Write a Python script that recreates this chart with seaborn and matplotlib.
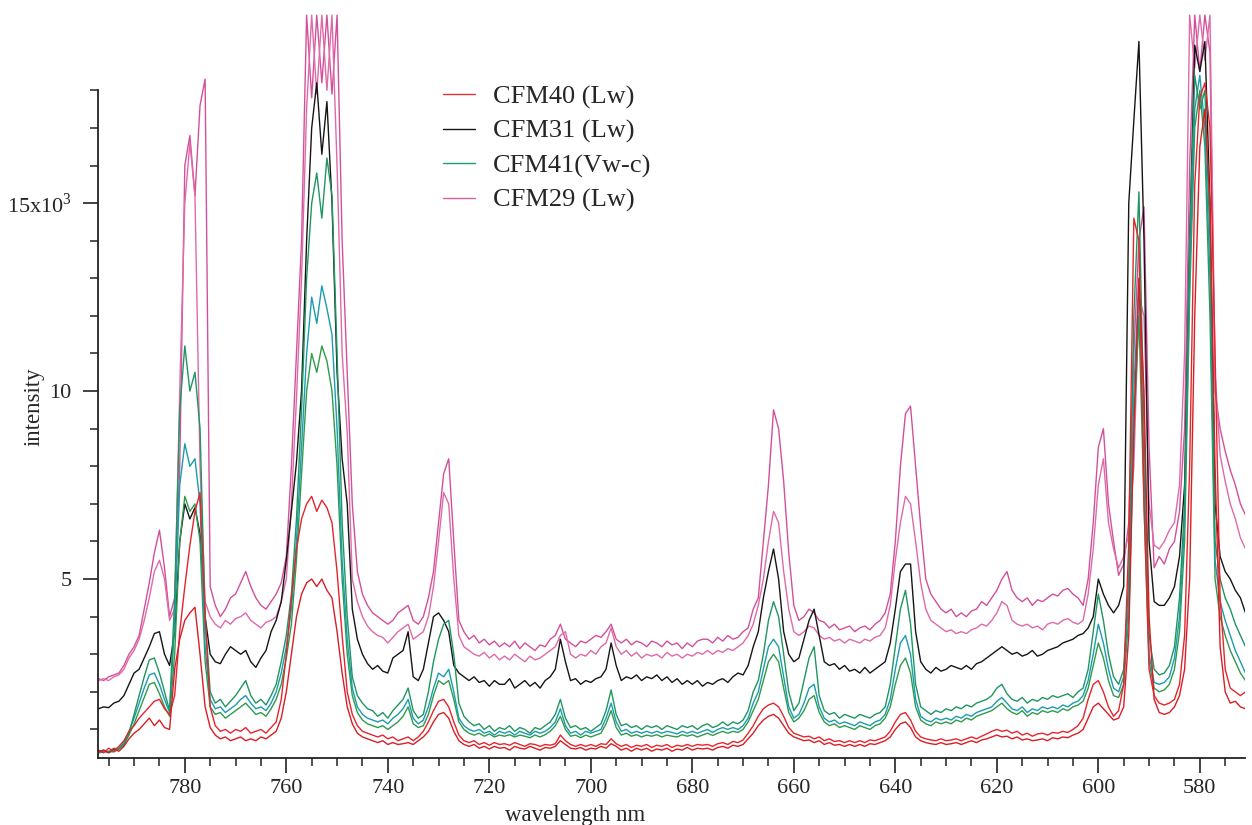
import numpy as np
import pandas as pd
import matplotlib
matplotlib.use("Agg")
import matplotlib.pyplot as plt
from matplotlib.lines import Line2D
from matplotlib.ticker import MultipleLocator, FixedLocator
import seaborn as sns

# wavelength grid, 797 nm down to 571 nm, 1 nm steps
wavelength = np.arange(797, 570, -1)

# intensities in units of 10^3 counts
cfm40_a = [
    0.40, 0.45, 0.38, 0.48, 0.42, 0.55, 0.75, 0.90, 1.00, 1.15,
    1.30, 1.10, 1.25, 1.05, 1.00, 2.60, 3.40, 3.90, 4.10, 4.25,
    3.00, 1.60, 1.05, 0.85, 0.75, 0.80, 0.70, 0.75, 0.80, 0.70,
    0.75, 0.70, 0.80, 0.75, 0.85, 0.95, 1.30, 2.00, 3.00, 4.00,
    4.60, 4.90, 5.00, 4.80, 5.00, 4.70, 4.50, 3.60, 2.50, 1.60,
    1.15, 0.90, 0.80, 0.75, 0.70, 0.65, 0.70, 0.60, 0.65, 0.60,
    0.62, 0.65, 0.60, 0.70, 0.80, 0.95, 1.20, 1.40, 1.45, 1.30,
    0.95, 0.70, 0.60, 0.55, 0.60, 0.50, 0.55, 0.48, 0.55, 0.50,
    0.52, 0.45, 0.55, 0.50, 0.48, 0.55, 0.50, 0.45, 0.52, 0.50,
    0.55, 0.70, 0.60, 0.50, 0.48, 0.52, 0.45, 0.50, 0.48, 0.55,
    0.50, 0.62, 0.55, 0.45, 0.50, 0.42, 0.50, 0.45, 0.50, 0.42,
    0.48, 0.45, 0.50, 0.42, 0.48, 0.45, 0.52, 0.45, 0.50, 0.48,
    0.50, 0.45, 0.52, 0.55, 0.50, 0.58, 0.55, 0.60, 0.75, 0.90,
    1.10, 1.25, 1.35, 1.40, 1.30, 1.10, 0.90, 0.80, 0.75, 0.70,
    0.72, 0.65, 0.70, 0.60, 0.65, 0.58, 0.60, 0.55, 0.60, 0.55,
    0.60, 0.55, 0.62, 0.60, 0.65, 0.70, 0.80, 1.00, 1.15, 1.20,
    1.05, 0.80, 0.70, 0.65, 0.62, 0.60, 0.65, 0.60, 0.62, 0.65,
    0.60, 0.65, 0.70, 0.65, 0.72, 0.75, 0.80, 0.85, 0.80, 0.82,
    0.75, 0.80, 0.72, 0.75, 0.70, 0.72, 0.75, 0.70, 0.78, 0.75,
    0.80, 0.78, 0.85, 0.90, 1.00, 1.30, 1.60, 1.70, 1.55, 1.40,
    1.25, 1.30, 1.60, 3.50, 9.00, 13.0, 10.0, 4.00, 1.80, 1.45,
    1.40, 1.45, 1.60, 1.90, 2.60, 5.00, 12.0, 16.5, 17.5, 15.0,
    8.00, 3.20, 2.00, 1.70, 1.75, 1.60, 1.55,
]
cfm40_b = [
    0.45, 0.38, 0.50, 0.42, 0.55, 0.70, 0.95, 1.10, 1.30, 1.45,
    1.60, 1.75, 1.80, 1.55, 1.40, 1.90, 3.60, 4.80, 5.90, 6.80,
    7.30, 4.00, 1.60, 1.10, 0.95, 1.00, 0.90, 1.00, 0.95, 1.05,
    0.90, 0.95, 1.00, 0.90, 1.05, 1.20, 1.80, 3.00, 4.50, 5.80,
    6.60, 7.00, 7.20, 6.80, 7.10, 6.90, 6.50, 5.20, 3.50, 2.00,
    1.40, 1.10, 0.95, 0.90, 0.85, 0.80, 0.85, 0.75, 0.80, 0.70,
    0.75, 0.80, 0.70, 0.80, 0.95, 1.20, 1.50, 1.75, 1.80, 1.60,
    1.20, 0.85, 0.70, 0.65, 0.70, 0.60, 0.65, 0.58, 0.65, 0.60,
    0.62, 0.58, 0.65, 0.60, 0.55, 0.62, 0.60, 0.55, 0.60, 0.58,
    0.62, 0.85, 0.70, 0.60, 0.55, 0.60, 0.55, 0.60, 0.55, 0.62,
    0.60, 0.75, 0.62, 0.55, 0.60, 0.52, 0.58, 0.55, 0.60, 0.52,
    0.58, 0.55, 0.60, 0.52, 0.58, 0.55, 0.60, 0.55, 0.60, 0.58,
    0.60, 0.55, 0.62, 0.65, 0.60, 0.68, 0.65, 0.72, 0.90, 1.10,
    1.35, 1.55, 1.65, 1.70, 1.60, 1.35, 1.05, 0.90, 0.85, 0.80,
    0.82, 0.75, 0.80, 0.70, 0.75, 0.68, 0.70, 0.65, 0.70, 0.65,
    0.70, 0.65, 0.72, 0.70, 0.75, 0.80, 0.95, 1.20, 1.40, 1.45,
    1.25, 0.95, 0.80, 0.75, 0.72, 0.70, 0.75, 0.70, 0.72, 0.75,
    0.70, 0.75, 0.80, 0.75, 0.82, 0.88, 0.95, 1.00, 0.95, 0.98,
    0.90, 0.95, 0.85, 0.90, 0.82, 0.88, 0.90, 0.85, 0.92, 0.90,
    0.95, 0.92, 1.00, 1.10, 1.30, 1.80, 2.20, 2.30, 2.00, 1.60,
    1.35, 1.50, 2.20, 6.00, 14.6, 14.0, 7.00, 2.60, 1.90, 1.70,
    1.65, 1.70, 1.80, 2.20, 3.50, 8.00, 15.5, 17.8, 18.2, 17.0,
    11.0, 4.50, 2.60, 2.10, 2.00, 1.90, 2.00,
]
cfm31 = [
    1.55, 1.60, 1.58, 1.70, 1.75, 1.90, 2.20, 2.50, 2.60, 2.90,
    3.20, 3.55, 3.60, 3.00, 2.70, 3.60, 6.00, 7.00, 6.60, 6.90,
    6.20, 4.00, 3.00, 2.80, 2.75, 3.00, 3.20, 3.10, 3.00, 3.10,
    2.80, 2.65, 2.90, 3.10, 3.60, 3.90, 4.40, 5.50, 6.80, 8.10,
    10.0, 14.0, 17.0, 18.2, 16.3, 17.7, 15.0, 10.5, 8.20, 7.00,
    4.20, 3.40, 3.00, 2.75, 2.60, 2.70, 2.55, 2.50, 2.90, 3.00,
    3.10, 3.60, 2.40, 2.30, 2.60, 3.30, 4.00, 4.10, 3.90, 3.60,
    2.70, 2.50, 2.40, 2.30, 2.40, 2.25, 2.30, 2.15, 2.30, 2.20,
    2.20, 2.35, 2.10, 2.20, 2.30, 2.15, 2.25, 2.10, 2.30, 2.40,
    2.60, 3.40, 2.80, 2.30, 2.35, 2.20, 2.30, 2.25, 2.35, 2.40,
    2.60, 3.30, 2.70, 2.30, 2.40, 2.35, 2.45, 2.30, 2.40, 2.35,
    2.45, 2.30, 2.40, 2.25, 2.35, 2.20, 2.30, 2.20, 2.30, 2.15,
    2.25, 2.20, 2.30, 2.35, 2.25, 2.40, 2.50, 2.45, 2.70, 3.20,
    3.60, 4.50, 5.20, 5.80, 5.00, 3.60, 3.00, 2.80, 2.90, 3.40,
    3.90, 4.20, 3.50, 2.80, 2.70, 2.75, 2.60, 2.70, 2.55, 2.60,
    2.50, 2.65, 2.50, 2.60, 2.70, 2.80, 3.30, 4.20, 5.20, 5.40,
    5.40, 3.60, 2.80, 2.60, 2.50, 2.65, 2.55, 2.60, 2.70, 2.65,
    2.60, 2.70, 2.60, 2.75, 2.80, 2.90, 3.00, 3.10, 3.20, 3.10,
    3.00, 3.05, 2.95, 3.00, 3.10, 2.95, 3.00, 3.10, 3.15, 3.20,
    3.30, 3.35, 3.40, 3.50, 3.55, 3.70, 4.00, 5.00, 4.60, 4.30,
    4.10, 4.30, 4.80, 15.0, 17.2, 19.3, 14.0, 6.00, 4.40, 4.30,
    4.30, 4.50, 4.80, 5.60, 7.50, 14.0, 19.2, 18.5, 19.3, 15.0,
    7.00, 5.60, 5.20, 5.00, 4.70, 4.50, 4.10,
]
cfm41_a = [
    0.42, 0.45, 0.40, 0.50, 0.48, 0.60, 0.90, 1.40, 1.90, 2.40,
    2.85, 2.90, 2.50, 2.00, 1.50, 4.50, 9.50, 11.2, 10.0, 10.5,
    9.00, 4.00, 2.00, 1.70, 1.80, 1.60, 1.75, 1.90, 2.10, 2.30,
    1.90, 1.70, 1.80, 1.65, 1.90, 2.20, 2.80, 3.50, 4.60, 6.60,
    9.50, 13.0, 15.0, 15.8, 14.6, 16.2, 15.2, 11.0, 6.50, 4.00,
    2.40, 1.90, 1.70, 1.55, 1.50, 1.35, 1.45, 1.30, 1.50, 1.65,
    1.80, 2.10, 1.50, 1.30, 1.40, 2.00, 2.80, 3.40, 3.80, 3.90,
    3.00, 1.70, 1.35, 1.20, 1.10, 1.15, 1.00, 1.10, 0.95, 1.05,
    1.00, 1.10, 0.95, 1.05, 1.00, 0.90, 1.05, 1.00, 1.10, 1.20,
    1.40, 1.80, 1.30, 1.05, 1.10, 1.00, 1.05, 0.95, 1.05, 1.15,
    1.50, 2.05, 1.40, 1.10, 1.15, 1.05, 1.10, 1.00, 1.10, 1.05,
    1.10, 1.00, 1.10, 1.05, 1.00, 1.10, 1.05, 1.10, 1.00, 1.10,
    1.15, 1.05, 1.10, 1.20, 1.10, 1.20, 1.15, 1.25, 1.50, 2.00,
    2.30, 3.00, 3.90, 4.40, 4.00, 3.00, 2.00, 1.50, 1.70, 2.30,
    2.90, 3.20, 1.90, 1.50, 1.40, 1.45, 1.30, 1.40, 1.35, 1.30,
    1.40, 1.35, 1.30, 1.40, 1.45, 1.60, 2.20, 3.20, 4.20, 4.70,
    3.80, 2.20, 1.60, 1.50, 1.40, 1.50, 1.45, 1.55, 1.50, 1.60,
    1.55, 1.65, 1.60, 1.70, 1.75, 1.80, 1.90, 2.10, 2.20, 1.95,
    1.80, 1.75, 1.85, 1.70, 1.80, 1.75, 1.85, 1.80, 1.90, 1.85,
    1.90, 1.95, 1.85, 2.00, 2.10, 2.60, 3.60, 4.60, 3.90, 3.00,
    2.40, 2.20, 2.60, 5.00, 12.0, 15.3, 9.00, 3.50, 2.60, 2.45,
    2.50, 2.70, 3.20, 4.50, 7.00, 14.0, 18.4, 17.5, 18.0, 14.0,
    6.00, 5.00, 4.50, 4.20, 3.80, 3.50, 3.20,
]
cfm41_b = [
    0.40, 0.42, 0.38, 0.45, 0.50, 0.65, 0.95, 1.30, 1.70, 2.10,
    2.45, 2.50, 2.20, 1.80, 1.45, 3.80, 7.50, 8.60, 8.00, 8.20,
    7.00, 3.20, 1.80, 1.55, 1.60, 1.45, 1.55, 1.65, 1.80, 1.90,
    1.70, 1.55, 1.60, 1.50, 1.70, 2.00, 2.50, 3.20, 4.20, 6.00,
    8.50, 11.0, 12.5, 11.8, 12.8, 12.2, 11.5, 9.00, 5.50, 3.40,
    2.10, 1.60, 1.40, 1.30, 1.25, 1.20, 1.25, 1.15, 1.30, 1.40,
    1.55, 1.80, 1.30, 1.15, 1.25, 1.60, 2.10, 2.50, 2.40, 2.60,
    2.00, 1.30, 1.10, 1.00, 0.95, 1.00, 0.90, 0.95, 0.85, 0.95,
    0.90, 0.95, 0.85, 0.95, 0.90, 0.85, 0.95, 0.90, 0.95, 1.05,
    1.20, 1.55, 1.10, 0.90, 0.95, 0.85, 0.95, 0.90, 0.95, 1.00,
    1.30, 1.70, 1.20, 0.95, 1.00, 0.90, 0.95, 0.90, 0.95, 0.90,
    0.95, 0.90, 0.95, 0.92, 0.88, 0.95, 0.90, 0.95, 0.90, 0.95,
    1.00, 0.92, 1.00, 1.05, 1.00, 1.05, 1.00, 1.10, 1.30, 1.70,
    2.00, 2.60, 3.20, 3.40, 3.20, 2.40, 1.60, 1.30, 1.40, 1.70,
    2.10, 2.20, 1.60, 1.30, 1.20, 1.25, 1.15, 1.20, 1.15, 1.10,
    1.20, 1.15, 1.10, 1.20, 1.25, 1.40, 1.80, 2.60, 3.30, 3.50,
    3.00, 1.80, 1.35, 1.25, 1.20, 1.30, 1.25, 1.30, 1.25, 1.35,
    1.30, 1.40, 1.35, 1.45, 1.50, 1.55, 1.60, 1.75, 1.85, 1.70,
    1.55, 1.50, 1.60, 1.45, 1.55, 1.50, 1.60, 1.55, 1.60, 1.55,
    1.65, 1.60, 1.70, 1.75, 1.90, 2.30, 3.00, 3.80, 3.30, 2.60,
    2.10, 2.00, 2.40, 4.50, 10.0, 13.0, 8.00, 3.00, 2.25, 2.20,
    2.25, 2.40, 2.90, 4.00, 6.50, 13.0, 17.5, 18.4, 17.0, 13.0,
    5.50, 4.40, 3.90, 3.50, 3.10, 2.80, 2.50,
]
cfm41_c = [
    0.38, 0.40, 0.42, 0.40, 0.48, 0.60, 0.85, 1.15, 1.50, 1.85,
    2.20, 2.25, 1.95, 1.60, 1.35, 3.00, 6.00, 7.20, 6.80, 7.00,
    6.00, 2.80, 1.60, 1.40, 1.45, 1.30, 1.40, 1.50, 1.60, 1.70,
    1.55, 1.40, 1.45, 1.35, 1.55, 1.80, 2.20, 2.90, 3.80, 5.50,
    7.80, 10.0, 11.0, 10.5, 11.2, 10.8, 10.0, 8.00, 5.00, 3.00,
    1.90, 1.45, 1.25, 1.15, 1.10, 1.05, 1.10, 1.00, 1.10, 1.20,
    1.35, 1.60, 1.15, 1.05, 1.10, 1.40, 1.90, 2.30, 2.20, 2.30,
    1.80, 1.20, 1.00, 0.90, 0.85, 0.90, 0.82, 0.88, 0.80, 0.85,
    0.82, 0.86, 0.80, 0.85, 0.82, 0.78, 0.85, 0.80, 0.86, 0.95,
    1.10, 1.35, 1.00, 0.82, 0.85, 0.78, 0.85, 0.80, 0.85, 0.90,
    1.15, 1.50, 1.05, 0.85, 0.90, 0.82, 0.86, 0.80, 0.85, 0.82,
    0.86, 0.80, 0.85, 0.82, 0.80, 0.86, 0.82, 0.86, 0.80, 0.85,
    0.90, 0.84, 0.90, 0.95, 0.90, 0.95, 0.92, 1.00, 1.20, 1.50,
    1.80, 2.30, 2.80, 3.00, 2.80, 2.10, 1.45, 1.20, 1.30, 1.50,
    1.80, 1.90, 1.45, 1.20, 1.10, 1.15, 1.05, 1.10, 1.05, 1.00,
    1.10, 1.05, 1.00, 1.10, 1.15, 1.30, 1.60, 2.20, 2.70, 2.90,
    2.50, 1.60, 1.25, 1.15, 1.10, 1.20, 1.15, 1.20, 1.15, 1.25,
    1.20, 1.30, 1.25, 1.35, 1.40, 1.45, 1.50, 1.60, 1.70, 1.55,
    1.45, 1.40, 1.50, 1.35, 1.45, 1.40, 1.50, 1.45, 1.50, 1.45,
    1.55, 1.50, 1.60, 1.65, 1.75, 2.10, 2.70, 3.30, 2.90, 2.30,
    1.90, 1.85, 2.20, 4.00, 9.00, 12.0, 7.00, 2.80, 2.10, 2.00,
    2.05, 2.20, 2.60, 3.60, 6.00, 12.5, 17.0, 18.0, 16.5, 12.0,
    5.00, 4.00, 3.50, 3.10, 2.80, 2.50, 2.30,
]
cfm29_a = [
    2.35, 2.30, 2.40, 2.45, 2.50, 2.70, 3.00, 3.20, 3.50, 4.20,
    4.90, 5.70, 6.30, 5.30, 4.00, 4.50, 8.00, 16.0, 16.8, 15.2,
    17.6, 18.3, 4.80, 4.30, 4.00, 4.20, 4.50, 4.60, 4.90, 5.20,
    4.80, 4.50, 4.30, 4.20, 4.40, 4.60, 4.90, 5.60, 8.00, 11.0,
    14.0, 20.0, 17.8, 20.0, 18.2, 20.0, 17.9, 20.0, 14.0, 10.5,
    7.00, 5.20, 4.60, 4.30, 4.10, 4.00, 3.90, 3.80, 3.90, 4.10,
    4.20, 4.30, 3.90, 3.80, 4.00, 4.50, 5.20, 6.50, 7.80, 8.20,
    6.00, 3.90, 3.60, 3.40, 3.50, 3.30, 3.40, 3.25, 3.35, 3.20,
    3.30, 3.20, 3.35, 3.15, 3.30, 3.20, 3.10, 3.25, 3.20, 3.40,
    3.50, 3.80, 3.40, 3.30, 3.20, 3.35, 3.30, 3.40, 3.50, 3.45,
    3.60, 3.80, 3.40, 3.30, 3.40, 3.25, 3.35, 3.30, 3.20, 3.35,
    3.30, 3.20, 3.35, 3.25, 3.30, 3.15, 3.30, 3.20, 3.35, 3.40,
    3.40, 3.30, 3.45, 3.35, 3.50, 3.40, 3.45, 3.60, 3.70, 4.20,
    4.50, 6.00, 7.50, 9.50, 9.00, 7.60, 5.70, 4.30, 3.90, 4.00,
    4.20, 4.10, 3.90, 3.85, 3.70, 3.80, 3.65, 3.70, 3.75, 3.60,
    3.70, 3.75, 3.65, 3.80, 3.90, 4.10, 4.60, 6.00, 8.00, 9.40,
    9.60, 8.00, 6.40, 5.00, 4.60, 4.40, 4.20, 4.10, 4.20, 4.00,
    4.10, 4.00, 4.15, 4.20, 4.40, 4.30, 4.50, 4.70, 5.00, 5.20,
    4.70, 4.50, 4.40, 4.50, 4.30, 4.45, 4.40, 4.50, 4.60, 4.55,
    4.70, 4.75, 4.60, 4.50, 4.30, 5.00, 6.50, 8.50, 9.00, 7.00,
    6.00, 5.10, 5.40, 6.50, 11.0, 14.0, 14.9, 8.50, 5.30, 5.60,
    5.40, 5.80, 6.00, 6.80, 9.00, 16.0, 20.0, 18.5, 20.0, 19.0,
    10.0, 9.00, 8.40, 7.90, 7.50, 7.00, 6.70,
]
cfm29_b = [
    2.30, 2.35, 2.30, 2.40, 2.45, 2.60, 2.90, 3.10, 3.40, 3.90,
    4.50, 5.20, 5.50, 5.00, 3.90, 4.20, 10.0, 15.0, 16.6, 15.2,
    8.00, 4.40, 4.00, 3.80, 3.70, 3.90, 3.80, 3.95, 4.00, 4.10,
    3.90, 3.80, 3.70, 3.85, 3.90, 4.00, 4.40, 5.00, 7.00, 9.80,
    13.0, 17.5, 20.0, 17.9, 20.0, 18.0, 20.0, 16.0, 11.0, 8.90,
    5.00, 4.40, 4.00, 3.75, 3.60, 3.50, 3.45, 3.30, 3.45, 3.60,
    3.70, 3.80, 3.40, 3.50, 3.60, 4.00, 4.80, 6.00, 7.30, 7.00,
    5.00, 3.50, 3.20, 3.10, 3.00, 2.95, 3.05, 2.90, 3.00, 2.85,
    2.95, 2.85, 3.00, 2.90, 2.80, 2.95, 2.85, 2.90, 3.00, 3.10,
    3.20, 3.50, 3.60, 3.00, 2.90, 3.00, 2.95, 3.10, 3.00, 3.20,
    3.30, 3.70, 3.20, 3.00, 3.10, 2.95, 3.05, 2.90, 3.00, 2.95,
    3.00, 2.90, 3.05, 2.95, 3.00, 2.90, 3.00, 2.95, 3.05, 3.00,
    3.10, 3.00, 3.10, 3.05, 3.15, 3.10, 3.20, 3.30, 3.50, 3.80,
    4.30, 5.00, 6.00, 6.80, 6.50, 5.20, 4.20, 3.60, 3.50, 3.60,
    3.75, 3.70, 3.50, 3.40, 3.45, 3.35, 3.40, 3.30, 3.40, 3.35,
    3.30, 3.40, 3.35, 3.45, 3.50, 3.70, 4.30, 5.50, 6.50, 7.20,
    7.00, 6.00, 4.90, 4.20, 3.90, 3.80, 3.70, 3.60, 3.65, 3.55,
    3.60, 3.55, 3.65, 3.70, 3.80, 3.75, 3.90, 4.10, 4.40, 4.30,
    3.90, 3.80, 3.75, 3.80, 3.70, 3.75, 3.65, 3.80, 3.85, 3.80,
    3.90, 3.95, 3.85, 3.80, 3.90, 4.60, 5.80, 7.50, 8.20, 6.50,
    5.80, 5.30, 5.60, 6.20, 8.00, 12.5, 12.0, 7.00, 5.90, 5.80,
    6.00, 6.30, 6.50, 7.50, 11.0, 20.0, 18.6, 20.0, 18.8, 20.0,
    10.5, 8.30, 7.60, 7.00, 6.60, 6.10, 5.80,
]

traces = {
    "CFM29 a": cfm29_a, "CFM29 b": cfm29_b,
    "CFM31": cfm31,
    "CFM41 c": cfm41_c, "CFM41 b": cfm41_b, "CFM41 a": cfm41_a,
    "CFM40 b": cfm40_b, "CFM40 a": cfm40_a,
}
palette = {
    "CFM29 a": "#d2509a", "CFM29 b": "#de6aa8",
    "CFM31": "#151515",
    "CFM41 c": "#2f9a4c", "CFM41 b": "#1a9cae", "CFM41 a": "#1e9660",
    "CFM40 b": "#e3262c", "CFM40 a": "#d81e24",
}
legend_labels = ["CFM40 (Lw)", "CFM31 (Lw)", "CFM41(Vw-c)", "CFM29 (Lw)"]
legend_colors = ["#e3363c", "#151515", "#1e9a7a", "#d860a2"]

df = pd.concat(
    [pd.DataFrame({"wl": wavelength, "I": v, "trace": k}) for k, v in traces.items()],
    ignore_index=True,
)

sns.set_style("ticks")
plt.rcParams["font.family"] = ["Liberation Serif", "DejaVu Serif"]
plt.rcParams["mathtext.fontset"] = "custom"
plt.rcParams["mathtext.rm"] = "Liberation Serif"

fig = plt.figure(figsize=(12.52, 8.25), dpi=100)
ax = fig.add_axes([0.0783, 0.0812, 0.9161, 0.905])

sns.lineplot(data=df, x="wl", y="I", hue="trace", hue_order=list(traces),
             palette=palette, estimator=None, sort=False, legend=False,
             linewidth=1.0, ax=ax)

ax.set_xlim(797.1, 571.1)
ax.set_ylim(0.24, 20.1)

for s in ["top", "right"]:
    ax.spines[s].set_visible(False)
ax.spines["left"].set_bounds(0.24, 18)
for s in ["left", "bottom"]:
    ax.spines[s].set_linewidth(1.3)
    ax.spines[s].set_color("#222222")

ax.xaxis.set_major_locator(FixedLocator([780, 760, 740, 720, 700, 680, 660, 640, 620, 600, 580]))
ax.xaxis.set_minor_locator(MultipleLocator(5))
ax.yaxis.set_major_locator(FixedLocator([5, 10, 15]))
ax.yaxis.set_minor_locator(FixedLocator(np.arange(1, 19)))
ax.set_yticklabels(["5", "10", r"15x10$^{3}$"])

ax.tick_params(which="major", direction="out", length=11, width=1.2,
               labelsize=16, color="#222222", pad=4)
ax.tick_params(which="minor", direction="out", length=6, width=1.1, color="#222222")
ax.tick_params(axis="y", which="major", pad=8)

ax.set_xlabel("wavelength nm", fontsize=16.5)
ax.set_ylabel("intensity", fontsize=16.5)
ax.xaxis.set_label_coords(0.416, -0.063)
ax.yaxis.set_label_coords(-0.047, 0.47)

handles = [Line2D([], [], color=c, lw=1.0) for c in legend_colors]
ax.legend(handles, legend_labels, loc="upper left", frameon=False,
          bbox_to_anchor=(443 / 1252, 1 - 85 / 825), bbox_transform=fig.transFigure,
          borderaxespad=0, borderpad=0, fontsize=19, handlelength=1.2,
          handletextpad=0.7, labelspacing=0.4)

fig.savefig("out.png", dpi=100)
